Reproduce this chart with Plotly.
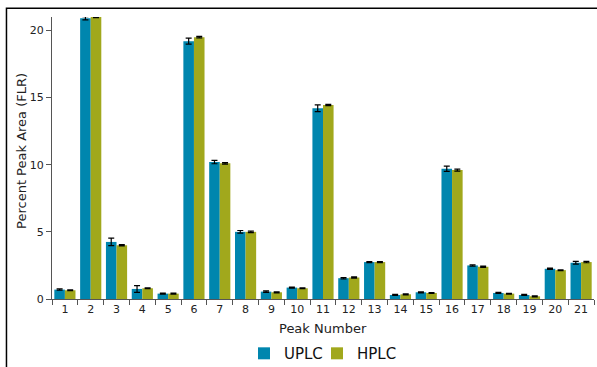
import plotly.graph_objects as go

peaks = [str(i) for i in range(1, 22)]
uplc = [0.7, 20.9, 4.25, 0.75, 0.4, 19.2, 10.2, 5.0, 0.55, 0.85, 14.2, 1.55, 2.75, 0.3, 0.5, 9.7, 2.5, 0.45, 0.3, 2.25, 2.7]
hplc = [0.65, 21.0, 4.0, 0.8, 0.4, 19.5, 10.1, 5.0, 0.5, 0.8, 14.45, 1.6, 2.75, 0.35, 0.45, 9.6, 2.4, 0.4, 0.2, 2.15, 2.75]
uplc_err = [0.05, 0.12, 0.28, 0.25, 0.04, 0.22, 0.13, 0.1, 0.05, 0.04, 0.25, 0.05, 0.04, 0.04, 0.04, 0.2, 0.05, 0.04, 0.04, 0.05, 0.1]
hplc_err = [0.03, 0.05, 0.05, 0.03, 0.04, 0.05, 0.05, 0.05, 0.04, 0.03, 0.05, 0.05, 0.04, 0.04, 0.03, 0.07, 0.05, 0.03, 0.04, 0.03, 0.05]

fig = go.Figure()
fig.add_trace(go.Bar(
    x=peaks, y=uplc, name="UPLC", marker=dict(color="#0086AE", line=dict(width=0)),
    error_y=dict(type="data", array=uplc_err, color="black", thickness=1.2, width=3),
    legend="legend",
))
fig.add_trace(go.Bar(
    x=peaks, y=hplc, name="HPLC", marker=dict(color="#A1A81C", line=dict(width=0)),
    error_y=dict(type="data", array=hplc_err, color="black", thickness=1.2, width=3),
    legend="legend2",
))

font_family = "DejaVu Sans, Verdana, sans-serif"
legend_style = dict(orientation="h", xanchor="left", yref="paper", y=-0.252, yanchor="bottom",
                    font=dict(size=15, color="#111"), bgcolor="rgba(0,0,0,0)")
fig.update_layout(
    width=597, height=367,
    margin=dict(l=52, r=3, t=17, b=68, autoexpand=False),
    paper_bgcolor="white", plot_bgcolor="white",
    barmode="group", bargap=0.18, bargroupgap=0.0,
    font=dict(family=font_family, color="#222", size=11),
    showlegend=True,
    legend=dict(x=0.3542, **legend_style),
    legend2=dict(x=0.4889, **legend_style),
    xaxis=dict(
        type="category", showline=True, linecolor="#555", linewidth=1, automargin=False,
        ticks="outside", tickson="boundaries", ticklen=5, tickcolor="#555",
        showgrid=False, zeroline=False, mirror=False, tickfont=dict(size=11),
    ),
    yaxis=dict(
        range=[0, 21], tickvals=[0, 5, 10, 15, 20], showline=True, linecolor="#555", automargin=False,
        linewidth=1, ticks="outside", ticklen=5, tickcolor="#555", showgrid=False,
        zeroline=False, mirror=False, tickfont=dict(size=11),
    ),
    annotations=[
        dict(text="Percent Peak Area (FLR)", textangle=-90, xref="paper", yref="paper",
             x=-0.0554, y=0.525, xanchor="center", yanchor="middle", showarrow=False,
             font=dict(size=13, color="#222")),
        dict(text="Peak Number", xref="paper", yref="paper",
             x=0.5, y=-0.106, xanchor="center", yanchor="middle", showarrow=False,
             font=dict(size=13, color="#222")),
    ],
    shapes=[
        dict(type="rect", xref="paper", yref="paper", x0=1.003, x1=1.2, y0=0.005, y1=1.02,
             line=dict(width=0), fillcolor="white", layer="above"),
        dict(type="rect", xref="paper", yref="paper", x0=-0.084, x1=1.3, y0=-0.4, y1=1.031,
             line=dict(color="black", width=1.5), fillcolor="rgba(0,0,0,0)", layer="above"),
    ],
)

fig.write_html("out.html", config={"displayModeBar": False},
               post_script="document.body.style.margin='0';document.body.style.overflow='hidden';")
